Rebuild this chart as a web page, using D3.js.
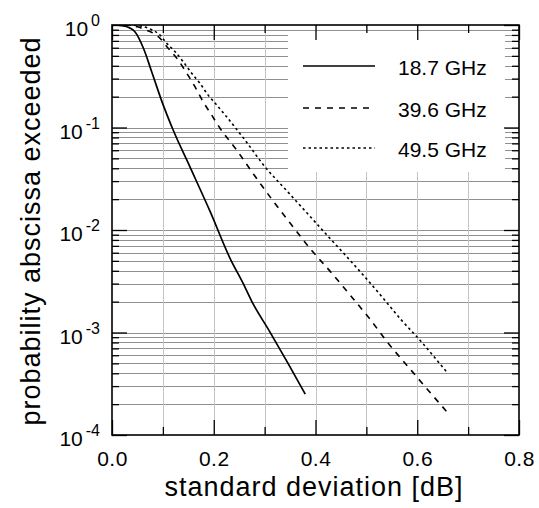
<!DOCTYPE html>
<html><head><meta charset="utf-8">
<script src="https://cdn.jsdelivr.net/npm/d3@7"></script>
<style>
body{margin:0;background:#fff}
svg{display:block}
text{font-family:"Liberation Sans",Arial,Helvetica,sans-serif;fill:#000}
</style>
</head><body>
<svg id="c" width="539" height="508"></svg>
<script>
// ---- data ----
const seriesNames = ["18.7 GHz", "39.6 GHz", "49.5 GHz"];

const sd187 = [0, 0.02, 0.035, 0.045, 0.062, 0.078, 0.098, 0.12, 0.153, 0.193, 0.232, 0.258, 0.275, 0.31, 0.346, 0.38];
const p187  = [1.0, 0.985, 0.935, 0.86, 0.59, 0.35, 0.180, 0.095, 0.0415, 0.0151, 0.0053, 0.0030, 0.0020, 0.00102, 0.00050, 0.00025];

const sd396 = [0, 0.03, 0.05, 0.068, 0.091, 0.111, 0.130, 0.147, 0.163, 0.179, 0.196, 0.212, 0.245, 0.278, 0.314, 0.353, 0.389, 0.432, 0.468, 0.507, 0.543, 0.582, 0.621, 0.658];
const p396  = [1.0, 0.995, 0.96, 0.89, 0.77, 0.59, 0.456, 0.338, 0.25, 0.179, 0.132, 0.0989, 0.0603, 0.0352, 0.020, 0.0112, 0.00663, 0.00379, 0.00232, 0.00135, 0.000785, 0.000464, 0.000275, 0.000169];

const sd495 = [0, 0.04, 0.06, 0.078, 0.094, 0.1075, 0.124, 0.140, 0.1566, 0.1729, 0.189, 0.2057, 0.2253, 0.2613, 0.3006, 0.343, 0.3825, 0.4218, 0.4544, 0.4937, 0.533, 0.569, 0.605, 0.641, 0.6576];
const p495  = [1.0, 0.995, 0.97, 0.90, 0.80, 0.663, 0.549, 0.438, 0.338, 0.27, 0.207, 0.166, 0.127, 0.0755, 0.0414, 0.0243, 0.0148, 0.0090, 0.0060, 0.00364, 0.00216, 0.00132, 0.000845, 0.000519, 0.000414];

const xMajorTicks = [0, 0.2, 0.4, 0.6, 0.8];
const xMinorTicks = [0.1, 0.3, 0.5, 0.7];
const yMajorTicks = [1e-4, 1e-3, 1e-2, 1e-1, 1];
const yExponents  = ["-4", "-3", "-2", "-1", "0"];
const xLabel = "standard deviation [dB]";
const yLabel = "probability abscissa exceeded";

// ---- layout ----
const svg = d3.select("#c");
const L = 112, R = 519, T = 25, B = 435;
const x = d3.scaleLinear().domain([0, 0.8]).range([L, R]);
const y = d3.scaleLog().domain([1e-4, 1]).range([B, T]);

// gridlines
const yAll = y.ticks().filter(v => v > 1e-4 * 1.001 && v < 0.999);
const yMinor = yAll.filter(v => !yMajorTicks.some(m => Math.abs(m - v) / m < 1e-6));
svg.append("g").selectAll("line").data(yAll).join("line")
  .attr("x1", L).attr("x2", R)
  .attr("y1", d => Math.round(y(d)) + 0.5).attr("y2", d => Math.round(y(d)) + 0.5)
  .attr("stroke", "#909090").attr("stroke-width", 1);
svg.append("g").selectAll("line").data(xMinorTicks.concat([0.2, 0.4, 0.6])).join("line")
  .attr("x1", d => Math.round(x(d)) + 0.5).attr("x2", d => Math.round(x(d)) + 0.5)
  .attr("y1", T).attr("y2", B)
  .attr("stroke", "#c4c4c4").attr("stroke-width", 1);

// legend background
svg.append("rect").attr("x", 288).attr("y", 32).attr("width", 217).attr("height", 140).attr("fill", "#fff");

// axes (ticks inside)
function styleAxis(g) {
  g.select(".domain").remove();
  g.selectAll(".tick line").attr("stroke", "#000").attr("stroke-width", 1.3);
  g.attr("font-size", 21).attr("font-family", null);
}
const bottomMajor = svg.append("g").attr("transform", `translate(0,${B})`)
  .call(d3.axisBottom(x).tickValues(xMajorTicks).tickSize(-15).tickPadding(16).tickFormat(d3.format(".1f")));
styleAxis(bottomMajor);
bottomMajor.selectAll("text").attr("letter-spacing", "0.5px");
styleAxis(svg.append("g").attr("transform", `translate(0,${B})`)
  .call(d3.axisBottom(x).tickValues(xMinorTicks).tickSize(-8).tickFormat("")));
styleAxis(svg.append("g").attr("transform", `translate(0,${T})`)
  .call(d3.axisTop(x).tickValues(xMajorTicks).tickSize(-15).tickFormat("")));
styleAxis(svg.append("g").attr("transform", `translate(0,${T})`)
  .call(d3.axisTop(x).tickValues(xMinorTicks).tickSize(-8).tickFormat("")));

const leftMajor = svg.append("g").attr("transform", `translate(${L},0)`)
  .call(d3.axisLeft(y).tickValues(yMajorTicks).tickSize(-15).tickPadding(12).tickFormat(() => ""));
styleAxis(leftMajor);
leftMajor.selectAll(".tick text").each(function(d, i) {
  const t = d3.select(this).attr("dy", "0.5em");
  t.append("tspan").text("10");
  t.append("tspan").attr("font-size", 16).attr("dx", 3).attr("dy", -10).text(yExponents[i]);
});
styleAxis(svg.append("g").attr("transform", `translate(${L},0)`)
  .call(d3.axisLeft(y).tickValues(yMinor).tickSize(-7).tickFormat("")));
styleAxis(svg.append("g").attr("transform", `translate(${R},0)`)
  .call(d3.axisRight(y).tickValues(yMajorTicks).tickSize(-15).tickFormat("")));
styleAxis(svg.append("g").attr("transform", `translate(${R},0)`)
  .call(d3.axisRight(y).tickValues(yMinor).tickSize(-7).tickFormat("")));

// frame
svg.append("rect").attr("x", L).attr("y", T).attr("width", R - L).attr("height", B - T)
  .attr("fill", "none").attr("stroke", "#000").attr("stroke-width", 1.6);

// curves
const series = [
  {sd: sd187, p: p187, dash: null, w: 1.7},
  {sd: sd396, p: p396, dash: "6,6", w: 1.6},
  {sd: sd495, p: p495, dash: "2.5,3", w: 1.6}
];
const line = d3.line().x(d => x(d[0])).y(d => y(d[1])).curve(d3.curveMonotoneX);
const plot = svg.append("g");
plot.append("clipPath").attr("id", "clip").append("rect").attr("x", L).attr("y", T).attr("width", R - L).attr("height", B - T);
series.forEach(s => {
  plot.append("path").attr("clip-path", "url(#clip)")
    .attr("d", line(d3.zip(s.sd, s.p)))
    .attr("fill", "none").attr("stroke", "#000").attr("stroke-width", s.w)
    .attr("stroke-dasharray", s.dash);
});

// legend
const legY = [66, 108, 148];
seriesNames.forEach((name, i) => {
  svg.append("line").attr("x1", 303).attr("x2", 375).attr("y1", legY[i]).attr("y2", legY[i])
    .attr("stroke", "#000").attr("stroke-width", series[i].w).attr("stroke-dasharray", series[i].dash);
  svg.append("text").attr("x", 398).attr("y", legY[i] + 9).attr("font-size", 21).text(name);
});

// titles
svg.append("text").attr("x", 314).attr("y", 496).attr("text-anchor", "middle")
  .attr("font-size", 27).attr("letter-spacing", "1px").text(xLabel);
svg.append("text").attr("transform", "translate(40,231) rotate(-90)").attr("text-anchor", "middle")
  .attr("font-size", 27).attr("letter-spacing", "1px").text(yLabel);
</script>
</body></html>
